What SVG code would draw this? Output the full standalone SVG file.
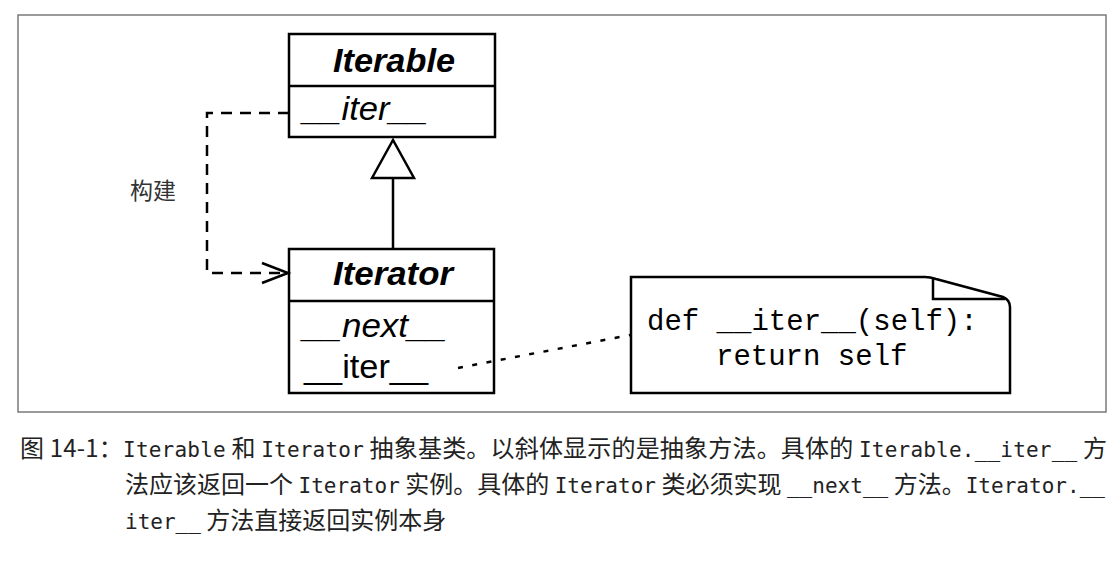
<svg xmlns="http://www.w3.org/2000/svg" width="1120" height="561" viewBox="0 0 1120 561">
<style>
.box{fill:#fff;stroke:#000;stroke-width:2.5}
.div{stroke:#000;stroke-width:2.5}
.title{font-family:"Liberation Sans",Arial,sans-serif;font-weight:bold;font-style:italic;font-size:33px;fill:#000;text-anchor:middle}
.meth{font-family:"Liberation Sans",Arial,sans-serif;font-size:33px;fill:#000}
.it{font-style:italic}
.code{font-family:"Liberation Mono","Courier New",monospace;font-size:29px;fill:#000}
.conn{fill:none;stroke:#000;stroke-width:2.5}
.cap{font-family:"Noto Sans CJK SC",sans-serif;font-size:24px;fill:#222}
.m{font-family:"DejaVu Sans Mono","Noto Sans CJK SC",monospace;font-size:21px}
</style>
<defs>
<marker id="openArrow" markerUnits="userSpaceOnUse" markerWidth="32" markerHeight="26" refX="27" refY="12" orient="auto">
<path d="M1,2 L27,12 L1,22" fill="none" stroke="#000" stroke-width="2.5"/>
</marker>
<marker id="genTri" markerUnits="userSpaceOnUse" markerWidth="44" markerHeight="48" refX="40" refY="23" orient="auto">
<path d="M2,2 L40,23 L2,44 Z" fill="#fff" stroke="#000" stroke-width="2.5" stroke-linejoin="miter"/>
</marker>
</defs>
<rect width="1120" height="561" fill="#fff"/>
<rect id="frame" x="18" y="15" width="1088" height="397" fill="none" stroke="#7a7a7a" stroke-width="1.5"/>
<g id="iterable">
<rect class="box" x="289" y="34" width="206" height="103"/>
<line class="div" x1="289" y1="86" x2="495" y2="86"/>
<text class="title" x="394" y="72" textLength="122" lengthAdjust="spacingAndGlyphs">Iterable</text>
<text class="meth it" x="303" y="120" textLength="125" lengthAdjust="spacingAndGlyphs">__iter__</text>
</g>
<g id="iterator">
<rect class="box" x="289" y="249" width="205" height="144"/>
<line class="div" x1="289" y1="301" x2="494" y2="301"/>
<text class="title" x="393" y="285" textLength="120" lengthAdjust="spacingAndGlyphs">Iterator</text>
<text class="meth it" x="303" y="337" textLength="144" lengthAdjust="spacingAndGlyphs">__next__</text>
<text class="meth" x="304" y="378" textLength="124" lengthAdjust="spacingAndGlyphs">__iter__</text>
</g>
<g id="note">
<path class="box" d="M631,277 H925 Q930,277 936,279 L1003,297 Q1010,300 1010,307 V393 H631 Z"/>
<path class="conn" d="M933,279 V299 H1005"/>
<text class="code" x="647" y="330">def __iter__(self):</text>
<text class="code" x="716" y="365">return self</text>
</g>
<g id="connectors">
<path id="gen" class="conn" d="M393,249 V140" marker-end="url(#genTri)"/>
<path id="build" class="conn" d="M289,113 H207 V273 H288" stroke-dasharray="11 8" marker-end="url(#openArrow)"/>
<path id="noteLink" class="conn" d="M458,368 L630,335" stroke-dasharray="5 9.5"/>
<text x="130" y="199" font-family="Noto Sans CJK SC, sans-serif" font-size="23" fill="#333">构建</text>
</g>
<g id="caption">
<text class="cap" x="20" y="457" textLength="1087" lengthAdjust="spacing">图 14-1：<tspan class="m">Iterable</tspan> 和 <tspan class="m">Iterator</tspan> 抽象基类。以斜体显示的是抽象方法。具体的 <tspan class="m">Iterable.__iter__</tspan> 方</text>
<text class="cap" x="125" y="493" textLength="980" lengthAdjust="spacing">法应该返回一个 <tspan class="m">Iterator</tspan> 实例。具体的 <tspan class="m">Iterator</tspan> 类必须实现 <tspan class="m">__next__</tspan> 方法。<tspan class="m">Iterator.__</tspan></text>
<text class="cap" x="125" y="529"><tspan class="m">iter__</tspan> 方法直接返回实例本身</text>
</g>
</svg>
